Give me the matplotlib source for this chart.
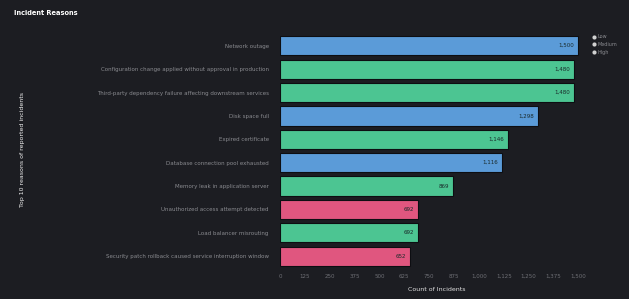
import matplotlib.pyplot as plt
from matplotlib.lines import Line2D

reasons = [
    "Network outage",
    "Configuration change applied without approval in production",
    "Third-party dependency failure affecting downstream services",
    "Disk space full",
    "Expired certificate",
    "Database connection pool exhausted",
    "Memory leak in application server",
    "Unauthorized access attempt detected",
    "Load balancer misrouting",
    "Security patch rollback caused service interruption window",
]
counts = [1500, 1480, 1480, 1298, 1146, 1116, 869, 692, 692, 652]
severity = ["Low", "Medium", "Medium", "Low", "Medium", "Low", "Medium", "High", "Medium", "High"]

sev_names = ["Low", "Medium", "High"]
sev_colors = {"Low": "#5b9bd8", "Medium": "#4cc592", "High": "#e0567f"}

bg = "#1c1d22"
fig = plt.figure(figsize=(6.29, 2.99), dpi=100, facecolor=bg)
ax = fig.add_axes([0.445, 0.1, 0.5, 0.79], facecolor=bg)

y = list(range(len(reasons)))
colors = [sev_colors[s] for s in severity]
bars = ax.barh(y, counts, height=0.82, color=colors, edgecolor="#0d0e12", linewidth=0.8)
ax.invert_yaxis()
ax.set_ylim(len(reasons) - 0.45, -0.55)
ax.set_xlim(0, 1580)

for b, v in zip(bars, counts):
    ax.text(b.get_width() - 20, b.get_y() + b.get_height() / 2, f"{v:,}",
            ha="right", va="center", fontsize=4, color="#1a2a2a")

ax.set_yticks(y)
ax.set_yticklabels(reasons, fontsize=4, color="#8a8b90")
ax.tick_params(axis="y", length=0, pad=8)
ax.tick_params(axis="x", length=0, labelsize=4, colors="#6e6f75")
ax.set_xticks(range(0, 1600, 125))
ax.set_xticklabels([f"{t:,}" for t in range(0, 1600, 125)])
for s in ax.spines.values():
    s.set_visible(False)

ax.set_xlabel("Count of Incidents", fontsize=4.5, color="#e0e0e0", labelpad=6)
fig.text(0.035, 0.5, "Top 10 reasons of reported incidents", rotation=90,
         ha="center", va="center", fontsize=4.5, color="#f0f0f0")
fig.text(0.022, 0.955, "Incident Reasons", fontsize=4.8, fontweight="bold", color="#ffffff",
         ha="left", va="center")

handles = [Line2D([0], [0], marker="o", linestyle="", markersize=3,
                  markerfacecolor="#d0d0d0", markeredgecolor="none") for _ in sev_names]
leg = fig.legend(handles, sev_names, loc="upper left", bbox_to_anchor=(0.935, 0.9),
                 frameon=False, fontsize=3.5, labelcolor="#8a8b90",
                 handletextpad=0.2, labelspacing=0.6, handlelength=0.8)

fig.savefig("out.png", dpi=100, facecolor=bg)
